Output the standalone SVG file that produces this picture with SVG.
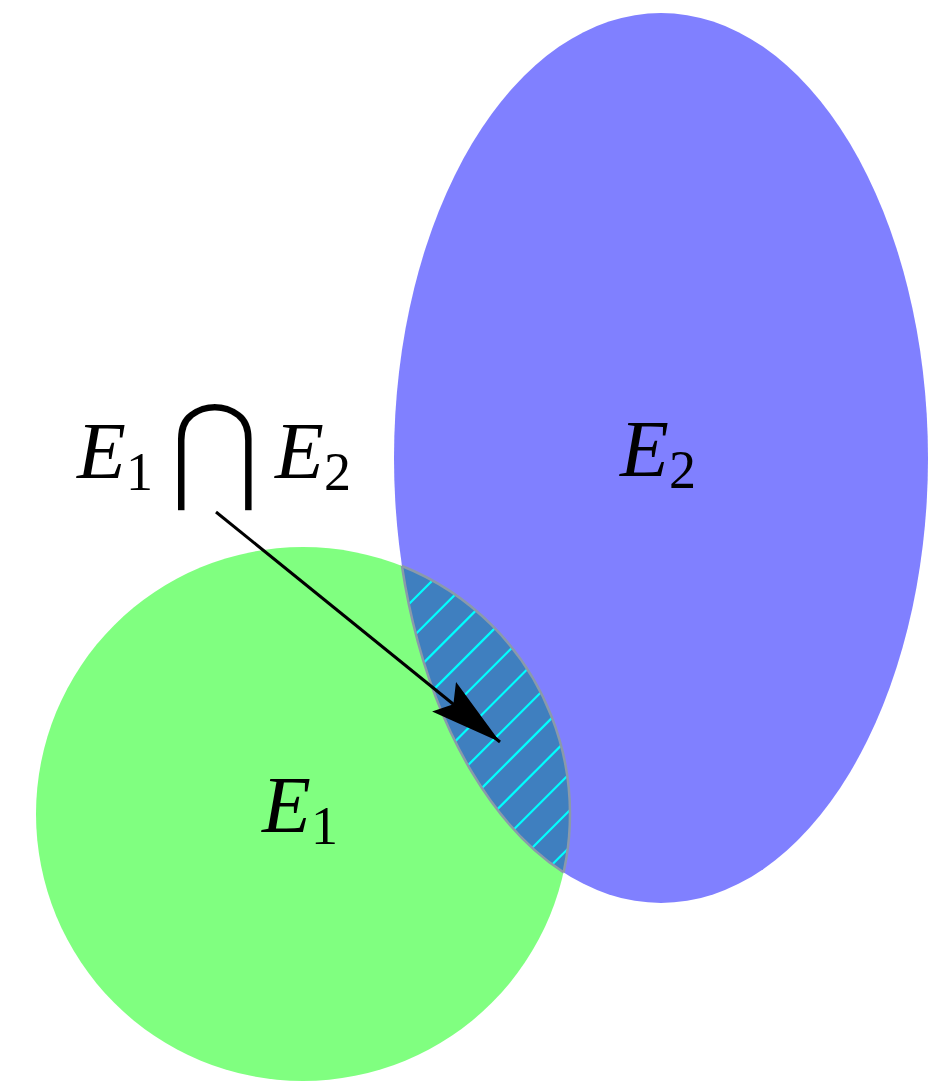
<svg xmlns="http://www.w3.org/2000/svg" width="944" height="1081" viewBox="0 0 944 1081">
  <style>
    .lbl { font-family: "Liberation Serif", "DejaVu Serif", serif; fill: #000; }
    .it { font-style: italic; font-size: 80px; }
    .sub { font-size: 54px; }
    .hatch { stroke: #00ffff; stroke-width: 2.2; }
    .border { fill: none; stroke: #8a9aaa; stroke-width: 2.5; }
  </style>
  <defs>
    <clipPath id="clipCircle"><circle cx="303" cy="814" r="267"/></clipPath>
    <clipPath id="clipEllipse"><ellipse cx="661" cy="458" rx="267" ry="445"/></clipPath>
    <marker id="arrowHead" viewBox="0 0 72 38" refX="72" refY="19" markerWidth="72" markerHeight="38" markerUnits="userSpaceOnUse" orient="auto">
      <path d="M0,0 L72,19 L0,38 L12,19 Z" fill="#000"/>
    </marker>
  </defs>
  <rect width="944" height="1081" fill="#ffffff"/>

  <g id="E2">
    <ellipse cx="661" cy="458" rx="267" ry="445" fill="#8080ff"/>
    <text class="lbl" x="620" y="476"><tspan class="it">E</tspan><tspan class="sub" dy="12">2</tspan></text>
  </g>

  <g id="E1">
    <circle cx="303" cy="814" r="267" fill="#80ff80"/>
    <text class="lbl" x="262" y="832"><tspan class="it">E</tspan><tspan class="sub" dy="12">1</tspan></text>
  </g>

  <g id="intersection">
    <g clip-path="url(#clipEllipse)">
      <g clip-path="url(#clipCircle)">
        <rect x="380" y="540" width="220" height="360" fill="#3f7fbf"/>
        <g class="hatch">
          <line x1="380" y1="633" x2="640" y2="373"/>
          <line x1="380" y1="669.7" x2="640" y2="409.7"/>
          <line x1="380" y1="706.4" x2="640" y2="446.4"/>
          <line x1="380" y1="743.1" x2="640" y2="483.1"/>
          <line x1="380" y1="779.8" x2="640" y2="519.8"/>
          <line x1="380" y1="816.5" x2="640" y2="556.5"/>
          <line x1="380" y1="853.2" x2="640" y2="593.2"/>
          <line x1="380" y1="889.9" x2="640" y2="629.9"/>
          <line x1="380" y1="926.6" x2="640" y2="666.6"/>
          <line x1="380" y1="963.3" x2="640" y2="703.3"/>
          <line x1="380" y1="1000" x2="640" y2="740"/>
          <line x1="380" y1="1036.7" x2="640" y2="776.7"/>
          <line x1="380" y1="1073.4" x2="640" y2="813.4"/>
          <line x1="380" y1="1110.1" x2="640" y2="850.1"/>
        </g>
      </g>
    </g>
    <g clip-path="url(#clipEllipse)"><circle class="border" cx="303" cy="814" r="267"/></g>
    <g clip-path="url(#clipCircle)"><ellipse class="border" cx="661" cy="458" rx="267" ry="445"/></g>
  </g>

  <g id="formula">
    <text class="lbl" x="77" y="478"><tspan class="it">E</tspan><tspan class="sub" dy="12">1</tspan></text>
    <text x="0" y="0" text-anchor="middle" font-family="DejaVu Sans, sans-serif" font-size="100" fill="#000" stroke="#ffffff" stroke-width="2.6" transform="translate(215,489) scale(1.12,1.2)">⋂</text>
    <text class="lbl" x="275" y="478"><tspan class="it">E</tspan><tspan class="sub" dy="12">2</tspan></text>
  </g>

  <g id="connectors">
    <line x1="216" y1="512" x2="500" y2="742" stroke="#000" stroke-width="3" marker-end="url(#arrowHead)"/>
  </g>
</svg>
